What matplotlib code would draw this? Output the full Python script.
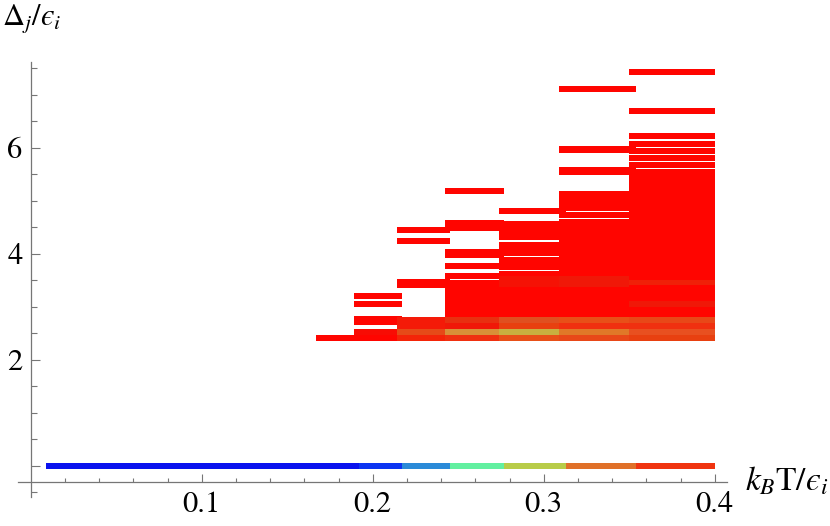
import matplotlib
matplotlib.use('Agg')
import matplotlib.pyplot as plt
from matplotlib.ticker import FixedLocator

plt.rcParams['mathtext.fontset'] = 'stix'
plt.rcParams['font.family'] = ['STIXGeneral', 'Liberation Serif', 'DejaVu Serif']

# ---------------- data ----------------
# ground level band (Delta = 0), coloured by temperature bin
ground_level = 0.0
ground_start = [0.009, 0.192, 0.217, 0.245, 0.277, 0.313, 0.354]
ground_end = [0.192, 0.217, 0.245, 0.277, 0.313, 0.354, 0.400]
ground_colors = ['#0a12ee', '#0c34f2', '#2a8ad8', '#62f0a0', '#b8cc48', '#e07028', '#f03410']

# excited levels per temperature bin
t_start = [0.167, 0.189, 0.214, 0.242, 0.274, 0.309, 0.350]
t_end = [0.189, 0.217, 0.245, 0.277, 0.313, 0.354, 0.400]

levels_c1 = [2.42]
levels_c2 = [3.20, 3.05, 2.77, 2.71, 2.53, 2.42]
levels_c3 = [4.45, 4.25, 3.48, 3.42, 2.75, 2.64, 2.53, 2.42]
levels_c4 = [5.19, 4.59, 4.49, 4.04, 3.97, 3.77, 3.59, 3.46, 3.37, 3.27, 3.17,
             3.05, 2.95, 2.85, 2.75, 2.64, 2.53, 2.42]
levels_c5 = [4.81, 4.56, 4.46, 4.36, 4.31, 4.18, 4.09, 4.02, 3.89, 3.80, 3.75,
             3.62, 3.53, 3.43, 3.33, 3.23, 3.13, 3.03, 2.93, 2.85, 2.75, 2.64,
             2.53, 2.42]
levels_c6 = [7.12, 5.99, 5.96, 5.58, 5.55, 5.13, 5.03, 4.93, 4.87, 4.74, 4.61,
             4.52, 4.42, 4.32, 4.22, 4.12, 4.02, 3.92, 3.82, 3.72, 3.62, 3.52,
             3.42, 3.32, 3.22, 3.12, 3.02, 2.92, 2.85, 2.75, 2.64, 2.53, 2.42]
levels_c7 = [7.43, 6.69, 6.22, 6.08, 5.945, 5.81, 5.68, 5.55, 5.45, 5.35, 5.25,
             5.15, 5.05, 4.95, 4.85, 4.75, 4.65, 4.55, 4.45, 4.35, 4.25, 4.15,
             4.05, 3.95, 3.85, 3.75, 3.65, 3.55, 3.45, 3.35, 3.25, 3.15, 3.05,
             2.95, 2.85, 2.75, 2.64, 2.53, 2.42]

# colour of levels that are not plain red
special_c1 = {}
special_c2 = {2.53: '#f80c04'}
special_c3 = {2.75: '#f41a08', 2.64: '#f41a08', 2.53: '#e64a18', 2.42: '#f42408'}
special_c4 = {2.75: '#e83010', 2.64: '#f01808', 2.53: '#d89038', 2.42: '#f03010'}
special_c5 = {3.53: '#f51205', 3.43: '#f51205', 2.75: '#e05020', 2.64: '#e84010',
              2.53: '#c8b040', 2.42: '#e85018'}
special_c6 = {3.52: '#f01808', 3.42: '#f01808', 2.75: '#e85018', 2.64: '#f03010',
              2.53: '#e07828', 2.42: '#e84818'}
special_c7 = {3.45: '#f02008', 3.05: '#f01808', 2.75: '#e84818', 2.64: '#f03010',
              2.53: '#e85020', 2.42: '#e84010'}

x_major = [0.1, 0.2, 0.3, 0.4]
x_major_labels = ['0.1', '0.2', '0.3', '0.4']
x_minor = [0.02, 0.04, 0.06, 0.08, 0.12, 0.14, 0.16, 0.18, 0.22, 0.24, 0.26,
           0.28, 0.32, 0.34, 0.36, 0.38]
y_major = [0, 2, 4, 6]
y_major_labels = ['', '2', '4', '6']
y_minor = [-0.5, 0.5, 1.0, 1.5, 2.5, 3.0, 3.5, 4.5, 5.0, 5.5, 6.5, 7.0, 7.5]

# ---------------- figure ----------------
W, H = 830, 526
fig = plt.figure(figsize=(W / 100, H / 100), dpi=100)
x0_px, x1_px = 17.9, 726.7
y_top_px, y_bot_px = 62.1, 496.7
ax = fig.add_axes([x0_px / W, 1 - y_bot_px / H, (x1_px - x0_px) / W,
                   (y_bot_px - y_top_px) / H])
ax.set_xlim(-0.0075, 0.407)
ax.set_ylim(-0.58, 7.62)

BAR_H = 0.11
RED = '#ff0500'

ax.barh([ground_level] * len(ground_start),
        [e - s for s, e in zip(ground_start, ground_end)],
        left=ground_start, height=0.105, color=ground_colors, linewidth=0)

all_levels = [levels_c1, levels_c2, levels_c3, levels_c4, levels_c5, levels_c6, levels_c7]
all_special = [special_c1, special_c2, special_c3, special_c4, special_c5, special_c6, special_c7]
for s, e, lv, sp in zip(t_start, t_end, all_levels, all_special):
    cols = [sp.get(v, RED) for v in lv]
    ax.barh(lv, [e - s] * len(lv), left=s, height=BAR_H, color=cols, linewidth=0)

axis_col = '#767676'
for side in ['top', 'right']:
    ax.spines[side].set_visible(False)
ax.spines['left'].set_position(('data', 0))
ax.spines['bottom'].set_position(('data', -0.3))
for side in ['left', 'bottom']:
    ax.spines[side].set_color(axis_col)
    ax.spines[side].set_linewidth(0.9)

ax.xaxis.set_major_locator(FixedLocator(x_major))
ax.set_xticklabels(x_major_labels)
ax.xaxis.set_minor_locator(FixedLocator(x_minor))
ax.yaxis.set_major_locator(FixedLocator(y_major))
ax.set_yticklabels(y_major_labels)
ax.yaxis.set_minor_locator(FixedLocator(y_minor))

ax.tick_params(axis='both', which='both', direction='in', color=axis_col, width=0.8)
ax.tick_params(axis='x', which='major', length=6, labelsize=22, pad=7)
ax.tick_params(axis='x', which='minor', length=3)
ax.tick_params(axis='y', which='major', length=6.5, labelsize=22, pad=6)
ax.tick_params(axis='y', which='minor', length=4)
ax.patch.set_alpha(0)

fig.text(2 / W, 1 - 18 / H, '$\\Delta_j/\u03f5_i$', fontsize=22, ha='left', va='center')
fig.text(745 / W, 1 - 481 / H, '$k_B\\mathrm{T}/\u03f5_i$', fontsize=24, ha='left', va='center')

fig.savefig('out.png', dpi=100)
